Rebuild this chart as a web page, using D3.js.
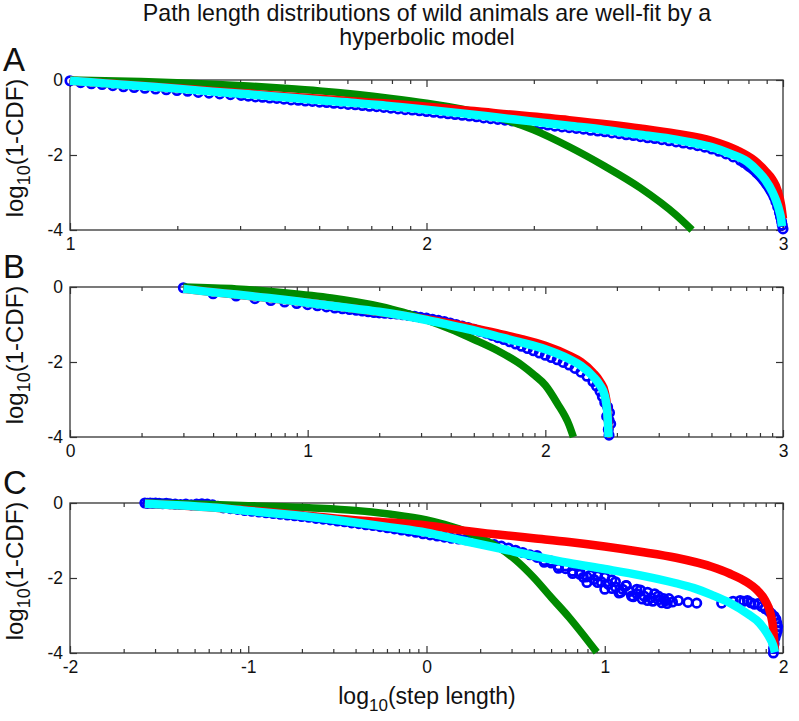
<!DOCTYPE html>
<html><head><meta charset="utf-8">
<script src="https://cdn.jsdelivr.net/npm/d3@7"></script>
<style>
body{margin:0;background:#fff}
svg{display:block}
text{font-family:"Liberation Sans",Arial,Helvetica,sans-serif;fill:#111}
</style>
</head><body><svg id="chart" width="799" height="721"></svg>
<script>
// ---------- data (x = log10(step length), y = log10(1-CDF)) ----------
const titleLines = ["Path length distributions of wild animals are well-fit by a", "hyperbolic model"];
const panelLetters = ["A", "B", "C"];
const xDomains = [[1, 3], [0, 3], [-2, 2]];
const xTickValues = [[1, 2, 3], [0, 1, 2, 3], [-2, -1, 0, 1, 2]];
const yTickValues = [0, -2, -4];
const yLabelMain = "log", yLabelSub = "10", yLabelRest = "(1-CDF)";
const xLabelMain = "log", xLabelSub = "10", xLabelRest = "(step length)";

const blueA = [[1.00,-0.02],[1.03,-0.07],[1.06,-0.10],[1.09,-0.12],[1.12,-0.15],[1.15,-0.18],[1.18,-0.20],[1.21,-0.22],[1.24,-0.24],[1.27,-0.26],[1.30,-0.28],[1.33,-0.30],[1.36,-0.33],[1.39,-0.35],[1.42,-0.37],[1.45,-0.39],[1.48,-0.41],
[1.50,-0.43],[1.52,-0.45],[1.54,-0.46],[1.56,-0.48],[1.58,-0.49],[1.60,-0.51],[1.62,-0.53],[1.64,-0.54],[1.66,-0.56],[1.68,-0.57],
[1.70,-0.59],[1.72,-0.60],[1.74,-0.62],[1.76,-0.63],[1.78,-0.65],[1.80,-0.66],[1.82,-0.68],[1.84,-0.70],[1.86,-0.71],[1.88,-0.73],
[1.90,-0.75],[1.92,-0.77],[1.94,-0.79],[1.96,-0.80],[1.98,-0.82],[2.00,-0.84],[2.02,-0.86],[2.04,-0.88],[2.06,-0.90],[2.08,-0.92],
[2.10,-0.94],[2.12,-0.96],[2.14,-0.98],[2.16,-1.01],[2.18,-1.03],[2.20,-1.05],[2.22,-1.07],[2.24,-1.09],[2.26,-1.12],[2.28,-1.14],
[2.30,-1.16],[2.32,-1.18],[2.34,-1.20],[2.36,-1.23],[2.38,-1.25],[2.40,-1.27],[2.42,-1.29],[2.44,-1.31],[2.46,-1.34],[2.48,-1.36],
[2.50,-1.38],[2.52,-1.41],[2.54,-1.43],[2.56,-1.46],[2.58,-1.48],[2.60,-1.51],[2.62,-1.54],[2.64,-1.56],[2.66,-1.59],[2.68,-1.62],
[2.70,-1.65],[2.72,-1.68],[2.74,-1.71],[2.76,-1.75],[2.78,-1.79],[2.80,-1.84],[2.82,-1.90],[2.84,-1.97],[2.86,-2.05],[2.88,-2.14],
[2.89,-2.20],[2.90,-2.26],[2.905,-2.30],[2.91,-2.33],[2.915,-2.37],[2.92,-2.41],[2.925,-2.46],[2.93,-2.50],[2.935,-2.55],[2.94,-2.60],
[2.945,-2.66],[2.95,-2.72],[2.955,-2.79],[2.96,-2.86],[2.965,-2.94],[2.97,-3.02],[2.975,-3.12],[2.98,-3.24],
[2.985,-3.38],[2.99,-3.53],[2.993,-3.65],[2.996,-3.77],[2.998,-3.87],[3.0,-3.97]];
const greenA = [[1.0,0],[1.2,-0.04],[1.3,-0.07],[1.4,-0.11],[1.5,-0.16],[1.6,-0.22],[1.7,-0.29],[1.8,-0.38],[1.9,-0.49],[2.0,-0.62],[2.1,-0.78],[2.2,-1.00],[2.3,-1.33],[2.4,-1.78],[2.5,-2.3],[2.6,-2.88],[2.7,-3.6],[2.745,-4.0]];
const redA = [[1.0,-0.02],[1.2,-0.15],[1.4,-0.29],[1.6,-0.43],[1.8,-0.57],[2.0,-0.71],[2.2,-0.89],[2.4,-1.07],[2.6,-1.29],[2.7,-1.43],[2.8,-1.62],[2.87,-1.87],[2.92,-2.15],[2.95,-2.42],[2.97,-2.65],[2.985,-2.95],[2.995,-3.35],[3.0,-3.7]];
const cyanA = [[1.0,-0.02],[1.1,-0.09],[1.2,-0.16],[1.3,-0.23],[1.4,-0.31],[1.5,-0.38],[1.6,-0.46],[1.7,-0.54],[1.8,-0.61],[1.9,-0.70],[2.0,-0.79],[2.1,-0.89],[2.2,-1.00],[2.3,-1.11],[2.4,-1.22],[2.5,-1.33],[2.6,-1.46],[2.7,-1.59],[2.75,-1.68],[2.8,-1.79],[2.85,-1.96],[2.9,-2.18],[2.93,-2.44],[2.95,-2.66],[2.97,-2.98],[2.98,-3.2],[2.99,-3.5],[2.995,-3.72],[2.997,-3.9]];

const blueB = [[0.477,-0.02],[0.602,-0.18],[0.699,-0.24],[0.778,-0.31],[0.845,-0.36],[0.903,-0.40],[0.954,-0.44],[1.0,-0.47],[1.041,-0.50],[1.079,-0.53],[1.114,-0.56],[1.146,-0.58],[1.176,-0.60],[1.204,-0.62],[1.23,-0.64],[1.255,-0.66],[1.279,-0.68],[1.301,-0.69],[1.325,-0.70],[1.35,-0.71],[1.375,-0.72],[1.40,-0.74],[1.425,-0.76],[1.45,-0.78],[1.475,-0.81],[1.50,-0.83],[1.525,-0.86],[1.55,-0.89],[1.575,-0.92],[1.60,-0.96],[1.625,-1.00],[1.65,-1.04],[1.675,-1.08],[1.70,-1.13],[1.725,-1.18],[1.75,-1.23],[1.775,-1.29],[1.80,-1.35],[1.825,-1.40],[1.85,-1.46],[1.875,-1.52],[1.90,-1.58],[1.925,-1.64],[1.95,-1.70],[1.975,-1.76],[2.0,-1.82],[2.025,-1.88],[2.05,-1.94],[2.075,-2.01],[2.10,-2.08],[2.125,-2.17],[2.15,-2.27],[2.175,-2.38],[2.20,-2.52],[2.215,-2.64],[2.23,-2.78],[2.24,-2.92],[2.25,-3.08],[2.262,-3.2],[2.27,-3.35],[2.258,-3.45],[2.268,-3.55],[2.275,-3.65],[2.265,-3.8],[2.268,-3.95]];
const greenB = [[0.477,0],[0.7,-0.05],[0.9,-0.15],[1.1,-0.29],[1.3,-0.51],[1.4,-0.67],[1.5,-0.88],[1.6,-1.12],[1.7,-1.40],[1.8,-1.70],[1.9,-2.08],[1.95,-2.33],[2.0,-2.62],[2.05,-3.1],[2.1,-3.68],[2.118,-4.0]];
const redB = [[0.477,-0.05],[0.8,-0.27],[1.2,-0.58],[1.5,-0.86],[1.7,-1.10],[1.8,-1.24],[1.9,-1.39],[2.0,-1.57],[2.1,-1.83],[2.15,-2.0],[2.2,-2.28],[2.23,-2.52],[2.25,-2.80],[2.26,-3.2],[2.266,-3.8]];
const cyanB = [[0.477,-0.05],[0.6,-0.14],[0.7,-0.20],[0.8,-0.27],[0.9,-0.34],[1.0,-0.42],[1.1,-0.50],[1.2,-0.58],[1.3,-0.66],[1.4,-0.76],[1.5,-0.88],[1.6,-1.02],[1.7,-1.16],[1.8,-1.32],[1.9,-1.48],[2.0,-1.66],[2.1,-1.92],[2.15,-2.1],[2.2,-2.38],[2.23,-2.62],[2.25,-2.9],[2.26,-3.3],[2.264,-3.7],[2.266,-4.0]];

const blueC = [[-1.58,0.0],[-1.565,-0.01],[-1.55,0.0],[-1.535,-0.01],[-1.52,0.0],[-1.5,-0.01],[-1.48,-0.02],[-1.46,-0.01],[-1.44,-0.02],[-1.41,-0.03],[-1.38,-0.04],[-1.35,-0.03],[-1.32,-0.05],[-1.29,-0.03],[-1.26,-0.02],[-1.23,-0.03],[-1.2,-0.05],[-1.17,-0.09],
[-1.14,-0.13],[-1.10,-0.15],[-1.06,-0.17],[-1.02,-0.20],[-0.98,-0.22],[-0.94,-0.24],[-0.90,-0.26],[-0.86,-0.28],[-0.82,-0.30],[-0.78,-0.32],[-0.74,-0.34],[-0.70,-0.36],[-0.66,-0.38],[-0.62,-0.41],[-0.58,-0.43],[-0.54,-0.45],[-0.50,-0.48],[-0.46,-0.50],[-0.42,-0.53],[-0.38,-0.55],[-0.34,-0.58],[-0.30,-0.60],[-0.26,-0.63],[-0.22,-0.66],[-0.18,-0.69],[-0.14,-0.72],[-0.10,-0.75],[-0.06,-0.78],[-0.02,-0.82],
[0.02,-0.85],[0.06,-0.88],[0.10,-0.91],[0.14,-0.94],[0.18,-0.96],[0.22,-0.98],[0.26,-1.01],[0.30,-1.04],[0.34,-1.07],[0.38,-1.11],[0.42,-1.15],[0.46,-1.20],[0.50,-1.26],[0.54,-1.32],[0.58,-1.38],[0.62,-1.45],[0.66,-1.53],[0.70,-1.60],[0.74,-1.67],[0.78,-1.75],[0.82,-1.82],[0.86,-1.90],[0.90,-1.97],[0.94,-2.04],[0.98,-2.10],[1.02,-2.17],[1.06,-2.24],[1.10,-2.30],[1.14,-2.36],[1.18,-2.42],[1.22,-2.48],[1.26,-2.53],[1.30,-2.58],[1.34,-2.61],[1.38,-2.64],
[0.62,-1.40],[0.66,-1.58],[0.70,-1.55],[0.74,-1.74],[0.78,-1.68],[0.82,-1.88],[0.86,-1.83],[0.88,-1.98],[0.92,-1.92],[0.96,-2.12],[1.0,-1.98],[1.04,-2.28],[1.06,-2.1],[1.09,-2.38],[1.12,-2.2],[1.15,-2.48],[1.18,-2.3],[1.21,-2.56],[1.24,-2.38],[1.27,-2.62],[1.3,-2.48],[1.33,-2.55],[1.35,-2.68],
[0.90,-2.12],[0.96,-1.95],[1.0,-2.3],[1.04,-2.05],[1.08,-2.4],[1.12,-2.2],[1.16,-2.5],[1.2,-2.32],[1.24,-2.6],[1.28,-2.42],[1.32,-2.66],[1.36,-2.55],
[1.413,-2.6],[1.467,-2.65],[1.516,-2.67],[1.656,-2.67],[1.72,-2.62],
[1.76,-2.6],[1.78,-2.62],[1.80,-2.60],[1.82,-2.66],[1.84,-2.70],[1.86,-2.68],[1.88,-2.76],[1.90,-2.82],[1.92,-2.88],[1.935,-2.95],[1.95,-3.02],[1.96,-3.1],[1.965,-3.2],[1.97,-3.3],[1.968,-3.4],[1.962,-3.5],[1.955,-3.6],[1.95,-3.75],[1.947,-3.88],[1.946,-4.0]];
const greenC = [[-1.58,0.0],[-1.2,-0.04],[-1.0,-0.07],[-0.8,-0.10],[-0.6,-0.14],[-0.4,-0.20],[-0.2,-0.30],[0.0,-0.45],[0.1,-0.57],[0.2,-0.72],[0.3,-0.93],[0.4,-1.17],[0.5,-1.52],[0.6,-1.98],[0.7,-2.52],[0.8,-3.05],[0.86,-3.4],[0.955,-3.98]];
const redC = [[-1.58,-0.02],[-1.2,-0.12],[-0.8,-0.28],[-0.4,-0.46],[-0.2,-0.52],[0.0,-0.60],[0.2,-0.73],[0.4,-0.84],[0.6,-0.94],[0.8,-1.04],[1.0,-1.16],[1.2,-1.30],[1.4,-1.46],[1.6,-1.70],[1.7,-1.88],[1.8,-2.12],[1.85,-2.30],[1.9,-2.60],[1.93,-2.95],[1.946,-3.39],[1.955,-3.95]];
const cyanC = [[-1.58,-0.02],[-1.4,-0.06],[-1.2,-0.12],[-1.0,-0.21],[-0.8,-0.30],[-0.6,-0.40],[-0.4,-0.52],[-0.2,-0.65],[0.0,-0.79],[0.2,-1.00],[0.4,-1.20],[0.6,-1.41],[0.8,-1.60],[1.0,-1.76],[1.2,-1.93],[1.4,-2.14],[1.5,-2.27],[1.6,-2.45],[1.7,-2.66],[1.8,-2.95],[1.87,-3.21],[1.92,-3.55],[1.945,-3.8],[1.955,-3.98]];

// ---------- layout ----------
const left = 70, right = 783;
const panelBoxes = [{top: 80, bottom: 230}, {top: 287, bottom: 437}, {top: 503, bottom: 653}];
const panelSeries = [
  {blue: blueA, green: greenA, red: redA, cyan: cyanA},
  {blue: blueB, green: greenB, red: redB, cyan: cyanB},
  {blue: blueC, green: greenC, red: redC, cyan: cyanC}
];
const COL = {blue: "#0000ff", green: "#008a00", red: "#ff0000", cyan: "#00ffff", axis: "#333"};

const svg = d3.select("#chart");

svg.append("g").selectAll("text").data(titleLines).join("text")
  .attr("x", 427).attr("y", (d, i) => 21 + i * 24)
  .attr("text-anchor", "middle").attr("font-size", 23.2).text(d => d);

function minorTicks(dom) {
  const out = [];
  for (let n = Math.floor(dom[0]); n < dom[1]; n++) {
    for (let k = 2; k <= 9; k++) {
      const v = n + Math.log10(k);
      if (v > dom[0] && v < dom[1]) out.push(v);
    }
  }
  return out;
}

panelBoxes.forEach((box, i) => {
  const x = d3.scaleLinear().domain(xDomains[i]).range([left, right]);
  const y = d3.scaleLinear().domain([-4, 0]).range([box.bottom, box.top]);
  const g = svg.append("g");
  const s = panelSeries[i];

  g.append("rect").attr("x", left).attr("y", box.top)
    .attr("width", right - left).attr("height", box.bottom - box.top)
    .attr("fill", "none").attr("stroke", COL.axis).attr("stroke-width", 1.3);

  const styleAxis = sel => {
    sel.select(".domain").remove();
    sel.selectAll(".tick line").attr("stroke", COL.axis).attr("stroke-width", 1.2);
    sel.selectAll(".tick text").attr("font-size", 17.5).attr("fill", "#111");
  };
  const minors = minorTicks(xDomains[i]);
  g.append("g").attr("transform", `translate(0,${box.bottom})`)
    .call(d3.axisBottom(x).tickValues(xTickValues[i]).tickSize(-7).tickPadding(8).tickFormat(d => String(d)))
    .call(styleAxis);
  g.append("g").attr("transform", `translate(0,${box.bottom})`)
    .call(d3.axisBottom(x).tickValues(minors).tickSize(-4).tickFormat(""))
    .call(styleAxis);
  g.append("g").attr("transform", `translate(0,${box.top})`)
    .call(d3.axisTop(x).tickValues(xTickValues[i]).tickSize(-7).tickFormat(""))
    .call(styleAxis);
  g.append("g").attr("transform", `translate(0,${box.top})`)
    .call(d3.axisTop(x).tickValues(minors).tickSize(-4).tickFormat(""))
    .call(styleAxis);
  g.append("g").attr("transform", `translate(${left},0)`)
    .call(d3.axisLeft(y).tickValues(yTickValues).tickSize(-7).tickPadding(7).tickFormat(d => String(d)))
    .call(styleAxis);
  g.append("g").attr("transform", `translate(${right},0)`)
    .call(d3.axisRight(y).tickValues(yTickValues).tickSize(-7).tickFormat(""))
    .call(styleAxis);

  g.append("text").attr("x", 3).attr("y", box.top - 9)
    .attr("font-size", 33).text(panelLetters[i]);

  const yl = g.append("text")
    .attr("transform", `translate(22.5,${(box.top + box.bottom) / 2 - 7}) rotate(-90)`)
    .attr("text-anchor", "middle").attr("font-size", 24);
  yl.append("tspan").text(yLabelMain);
  yl.append("tspan").attr("font-size", 18).attr("dy", 7).text(yLabelSub);
  yl.append("tspan").attr("dy", -7).text(yLabelRest);

  g.append("g").selectAll("circle").data(s.blue).join("circle")
    .attr("cx", d => x(d[0])).attr("cy", d => y(d[1])).attr("r", 4.2)
    .attr("fill", "none").attr("stroke", COL.blue).attr("stroke-width", 2.7);

  const line = d3.line().x(d => x(d[0])).y(d => y(d[1])).curve(d3.curveMonotoneX);
  [["green", 7.5], ["red", 8.5], ["cyan", 8.5]].forEach(([k, w]) => {
    g.append("path").datum(s[k]).attr("d", line)
      .attr("fill", "none").attr("stroke", COL[k]).attr("stroke-width", w)
      .attr("stroke-linejoin", "round").attr("stroke-linecap", "butt");
  });
});

const xl = svg.append("text").attr("x", 427).attr("y", 704)
  .attr("text-anchor", "middle").attr("font-size", 23);
xl.append("tspan").text(xLabelMain);
xl.append("tspan").attr("font-size", 17).attr("dy", 7).text(xLabelSub);
xl.append("tspan").attr("dy", -7).text(xLabelRest);
</script></body></html>
